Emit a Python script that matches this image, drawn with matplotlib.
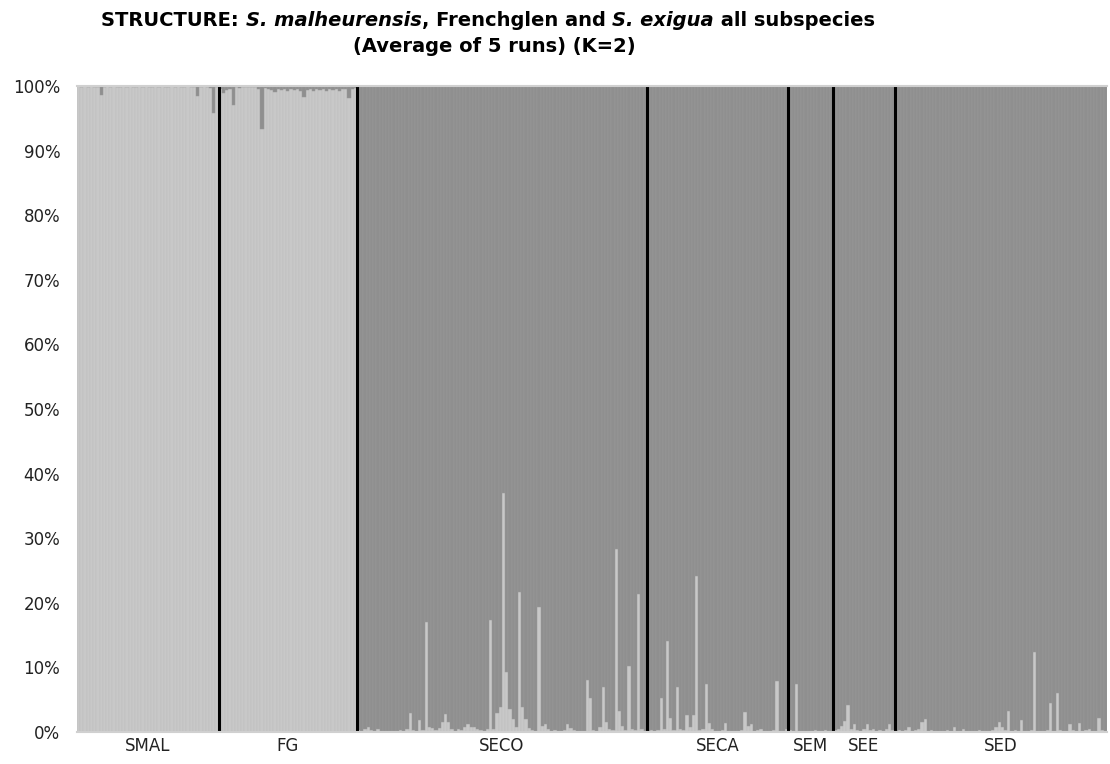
import numpy as np
import matplotlib
matplotlib.use("Agg")
import matplotlib.pyplot as plt

# membership in cluster 1 (light grey), in percent, one value per individual
smal = [100.0, 99.9, 100.0, 99.9, 100.0, 99.9, 99.8, 98.6, 99.9, 100.0,
        99.9, 100.0, 99.9, 99.9, 100.0, 99.9, 100.0, 99.9, 99.9, 100.0,
        99.9, 100.0, 99.9, 99.9, 100.0, 99.9, 100.0, 99.9, 99.9, 100.0,
        99.9, 100.0, 99.9, 99.9, 100.0, 99.9, 99.9, 98.5, 99.9, 100.0,
        99.9, 99.7, 95.8, 99.8]
fg = [99.6, 98.9, 99.4, 99.5, 97.0, 99.8, 99.7, 99.9, 99.8, 99.9,
      99.8, 99.9, 99.6, 93.3, 99.7, 99.6, 99.4, 99.0, 99.5, 99.4,
      99.6, 99.3, 99.5, 99.4, 99.6, 99.3, 98.3, 99.4, 99.6, 99.3,
      99.5, 99.4, 99.5, 99.3, 99.6, 99.4, 99.5, 99.3, 99.6, 99.5,
      98.1, 99.6, 99.7]
seco = [0.3, 0.2, 0.4, 0.8, 0.3, 0.2, 0.5, 0.2, 0.1, 0.2,
        0.2, 0.1, 0.2, 0.3, 0.2, 0.4, 3.0, 0.3, 0.2, 1.8,
        0.3, 17.0, 0.8, 0.6, 0.3, 0.6, 1.5, 2.8, 1.5, 0.4,
        0.2, 0.5, 0.3, 0.8, 1.2, 0.8, 0.7, 0.5, 0.3, 0.2,
        0.5, 17.3, 0.4, 3.0, 3.9, 37.0, 9.3, 3.5, 2.0, 0.8,
        21.7, 3.8, 2.0, 0.6, 0.3, 0.2, 19.4, 1.0, 1.3, 0.4,
        0.2, 0.3, 0.2, 0.1, 0.3, 1.2, 0.6, 0.3, 0.2, 0.1,
        0.2, 8.0, 5.3, 0.3, 0.2, 0.8, 7.0, 1.5, 0.4, 0.3,
        28.3, 3.2, 1.0, 0.3, 10.2, 0.4, 0.3, 21.4, 0.5, 0.2]
seca = [0.2, 0.3, 0.2, 0.3, 5.3, 0.4, 14.1, 2.2, 0.3, 7.0,
        0.5, 0.3, 2.6, 0.8, 2.6, 24.1, 0.3, 0.4, 7.4, 1.4,
        0.5, 0.2, 0.1, 0.3, 1.4, 0.2, 0.1, 0.2, 0.2, 0.3,
        3.1, 1.0, 1.2, 0.2, 0.3, 0.5, 0.2, 0.1, 0.2, 0.3,
        7.9, 0.2, 0.1, 0.5]
sem = [0.3, 0.2, 7.4, 0.2, 0.1, 0.2, 0.1, 0.2, 0.3, 0.1, 0.2, 0.3, 0.1, 0.2]
see = [0.3, 0.5, 1.0, 1.7, 4.2, 0.4, 1.3, 0.3, 0.2, 0.4,
       1.3, 0.3, 0.5, 0.2, 0.3, 0.2, 0.4, 1.2, 0.3]
sed = [0.2, 0.3, 0.2, 0.3, 0.8, 0.2, 0.3, 0.4, 1.5, 2.0,
       0.2, 0.3, 0.2, 0.1, 0.2, 0.2, 0.3, 0.2, 0.8, 0.2,
       0.1, 0.5, 0.2, 0.1, 0.2, 0.2, 0.3, 0.2, 0.1, 0.2,
       0.3, 0.8, 1.5, 0.8, 0.3, 3.2, 0.2, 0.3, 0.2, 1.8,
       0.2, 0.1, 0.3, 12.4, 0.2, 0.1, 0.2, 0.3, 4.5, 0.2,
       6.0, 0.3, 0.2, 0.1, 1.2, 0.3, 0.2, 1.4, 0.2, 0.3,
       0.4, 0.2, 0.1, 2.2, 0.3, 0.2]

group_names = ["SMAL", "FG", "SECO", "SECA", "SEM", "SEE", "SED"]
groups = [smal, fg, seco, seca, sem, see, sed]
yticks = [0, 10, 20, 30, 40, 50, 60, 70, 80, 90, 100]

light = np.concatenate([np.array(g, dtype=float) for g in groups])
dark = 100 - light
x = np.arange(len(light))
sizes = [len(g) for g in groups]
bounds = np.cumsum([0] + sizes)

fig = plt.figure(figsize=(11.1, 7.64), dpi=100)
ax = fig.add_axes([77 / 1110, 32 / 764, 1030 / 1110, 646 / 764])

ax.bar(x, light, width=1.0, color="#c8c8c8", edgecolor="#bdbdbd", linewidth=0.3)
ax.bar(x, dark, bottom=light, width=1.0, color="#8f8f8f", edgecolor="#9b9b9b", linewidth=0.3)

# group separators
for b in bounds[1:-1]:
    ax.axvline(b - 0.5, color="black", lw=2.2)

ax.set_xlim(-0.5, len(light) - 0.5)
ax.set_ylim(0, 100)
ax.set_yticks(yticks)
ax.set_yticklabels([f"{t}%" for t in yticks], fontsize=12, color="#222222")
ax.tick_params(axis="y", length=0, pad=12)
ax.set_xticks([])
for s in ["left", "right"]:
    ax.spines[s].set_visible(False)
for s in ["top", "bottom"]:
    ax.spines[s].set_color("#d0d0d0")
    ax.spines[s].set_linewidth(1.5)

# group labels under the bars
for name, a, b in zip(group_names, bounds[:-1], bounds[1:]):
    ax.text((a + b - 1) / 2, -0.8, name, ha="center", va="top", fontsize=12, color="#222222")

# title with mixed bold / bold-italic pieces
pieces = [("STRUCTURE: ", "normal"), ("S. malheurensis", "italic"), (", Frenchglen and ", "normal"),
          ("S. exigua", "italic"), (" all subspecies", "normal")]
renderer = fig.canvas.get_renderer()
texts = []
for s, st in pieces:
    t = fig.text(0, 1 - 21 / 764, s, fontsize=14, fontweight="bold", fontstyle=st,
                 family="DejaVu Sans", va="center", ha="left")
    texts.append(t)
widths = [t.get_window_extent(renderer).width for t in texts]
xpos = 488 - sum(widths) / 2
for t, w in zip(texts, widths):
    t.set_x(xpos / 1110)
    xpos += w
fig.text(494 / 1110, 1 - 47 / 764, "(Average of 5 runs) (K=2)", fontsize=14, fontweight="bold",
         family="DejaVu Sans", ha="center", va="center")

fig.savefig("out.png", dpi=100)
